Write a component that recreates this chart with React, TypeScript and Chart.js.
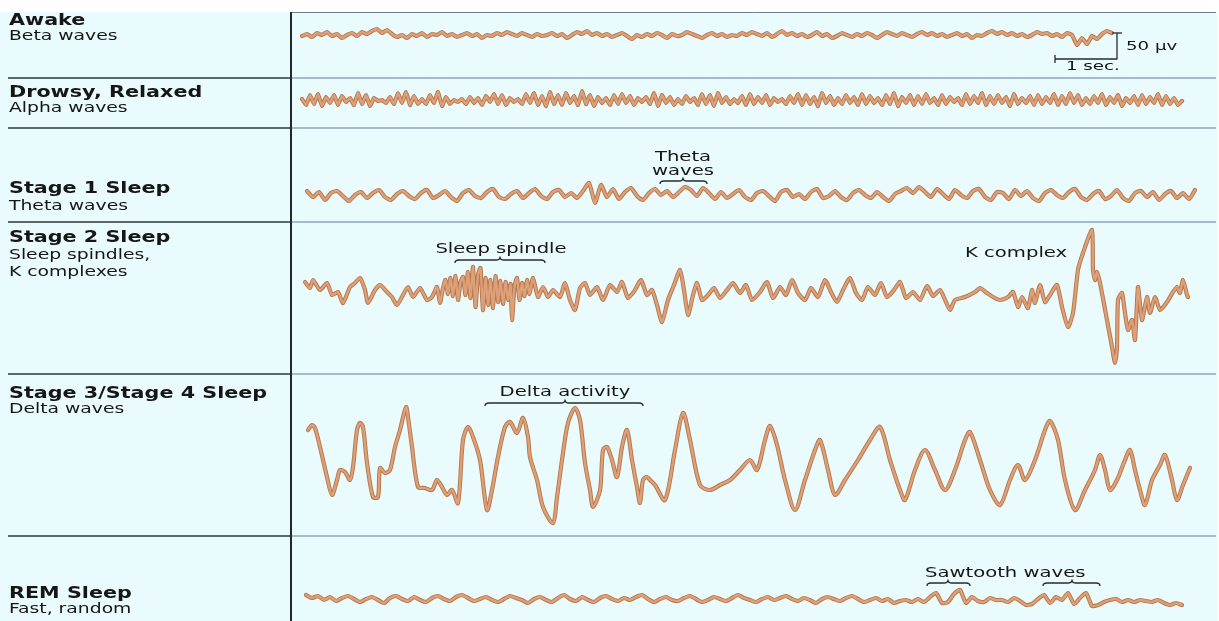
import React, { useEffect, useRef } from "react";
import { Chart, registerables } from "chart.js";

Chart.register(...registerables);

// ---------- labels ----------
const stageNames = ["Awake", "Drowsy, Relaxed", "Stage 1 Sleep", "Stage 2 Sleep", "Stage 3/Stage 4 Sleep", "REM Sleep"];
const waveNames = [["Beta waves"], ["Alpha waves"], ["Theta waves"], ["Sleep spindles,", "K complexes"], ["Delta waves"], ["Fast, random"]];

// ---------- data (time units, amplitude units) ----------
const awakeStart = 0.2;
const awakeStep = 0.5;
const awakeValues = [
  0, 2, -1, 3, 1, 4, 0, 2, -2, 1,
  3, 0, 4, 2, 5, 7, 3, 6, 2, -1,
  1, -2, 2, 0, 3, -1, 2, 1, 4, 0,
  2, -1, 1, 3, 0, 2, -2, 1, 0, 3,
  1, 4, 2, 0, 3, 1, -1, 2, 0, 1,
  3, 0, 2, -2, 1, 4, 2, 5, 1, 3,
  0, 2, -1, 1, 3, 0, -3, 1, -1, 2,
  0, 3, 1, -2, 2, 0, 1, 4, 2, 0,
  -2, 1, 3, 0, 2, -1, 1, 0, 3, 1,
  4, 2, 0, 3, -1, 2, 5, 1, 3, 0,
  2, -1, 1, 4, 0, 2, -2, 0, 3, 1,
  -1, 2, 0, 3, 1, -2, 1, 4, 2, 0,
  3, 1, -1, 2, 4, 1, 3, 0, 2, -1,
  1, 3, 0, 2, -2, 1, 0, 3, 5, 2,
  4, 1, 3, 0, 2, -1, 1, 4, 2, 3,
  0, 2, -1, 3, 1, -9, -2, -8, 0, -3,
  2, 5, 3,
];

const alphaStart = 0.2;
const alphaStep = 0.4;
const alphaValues = [
  2, -4, 6, -3, 7, -5, 4, -2, 6, -4,
  5, -1, 3, -4, 8, -3, 6, -5, 3, 0,
  1, -2, 4, -3, 8, -2, 9, -4, 5, -3,
  2, -3, 6, -2, 9, -5, 4, -3, 1, -1,
  2, -3, 4, -2, 3, -4, 5, -1, 7, -3,
  6, -4, 3, -1, 2, -3, 7, -2, 8, -4,
  5, -5, 9, -3, 6, -4, 8, -2, 5, -4,
  10, -3, 6, -5, 4, -2, 3, -4, 6, -3,
  7, -2, 5, -4, 3, -1, 4, -3, 8, -5,
  6, -2, 4, -4, 2, -3, 5, -1, 3, -4,
  7, -3, 6, -5, 8, -2, 4, -3, 2, -2,
  5, -4, 7, -3, 4, -2, 6, -4, 3, -1,
  2, -3, 5, -2, 7, -4, 6, -3, 4, -5,
  8, -2, 5, -4, 3, -3, 6, -2, 4, -4,
  7, -3, 5, -2, 3, -4, 6, -3, 8, -5,
  4, -2, 6, -4, 5, -3, 7, -2, 3, -4,
  6, -3, 4, -1, 3, -4, 7, -3, 5, -2,
  8, -4, 5, -3, 6, -2, 4, -5, 7, -3,
  3, -2, 5, -4, 6, -3, 4, -2, 7, -4,
  5, -3, 8, -2, 6, -4, 3, -3, 5, -2,
  7, -4, 4, -2, 6, -5, 3, -2, 5, -4,
  6, -3, 4, -2, 7, -4, 5, -3, 3, -4,
  0,
];

const thetaStart = 0.7;
const thetaStep = 0.6;
const thetaValues = [
  4, -2, 3, -5, 2, 4, -1, -6, 0, 3,
  -3, 2, 5, -2, -5, 1, 4, -1, -4, 2,
  5, -3, 0, 4, -2, -6, 2, 5, -1, -3,
  3, 6, -2, -4, 1, 4, -3, 2, 6, -1,
  -4, 3, 5, -2, 2, -3, 4, 12, -8, 10,
  -2, 6, -4, 3, 7, -1, -5, 2, 6, 0,
  4, -2, 3, 8, 5, -1, 7, 2, -4, 3,
  -3, 1, 5, -2, -5, 2, 4, -1, -6, 3,
  5, -2, 1, -4, 3, 6, -3, -1, 4, -2,
  -5, 2, 5, 0, -3, 3, -2, -6, 1, 4,
  7, 2, 8, 3, -2, 6, 1, -4, 5, 0,
  -3, 4, 6, -2, -5, 3, 2, -4, 5, -1,
  4, -3, -6, 2, 5, 0, -3, 3, 6, -2,
  -5, 1, 4, -4, -1, 5, -3, -6, 2, 4,
  -2, 3, -5, 1, 4, -3, 2, -4, 5,
];

const stage2Time = [
  0.5, 1.0, 1.3, 2.0, 2.7, 3.2, 3.8, 4.3, 5.0, 5.5, 6.0,
  6.5, 6.8, 7.5, 8.0, 8.7, 9.2, 9.7, 10.3, 10.8, 11.3,
  12.0, 12.7, 13.2, 13.7, 14.0,
  14.3, 14.55, 14.8, 15.05, 15.3, 15.55, 15.8, 16.05, 16.3, 16.55,
  16.8, 17.05, 17.3, 17.55, 17.8, 18.05, 18.3, 18.55, 18.8, 19.05,
  19.3, 19.55, 19.8, 20.05, 20.3, 20.55, 20.8, 21.05, 21.2, 21.45,
  21.7, 21.95, 22.2, 22.45, 22.7, 22.95, 23.3,
  23.8, 24.3, 24.8, 25.3, 26.0, 26.5, 27.0, 27.5,
  28.0, 28.5, 29.0, 29.7, 30.3, 31.0, 31.7, 32.2, 32.8, 33.5,
  34.1, 34.7, 35.2, 35.7, 36.2, 36.8, 37.4, 38.0, 38.4, 38.8,
  39.3, 39.7, 40.2, 40.8, 41.4, 42.0, 42.7, 43.3, 44.0, 44.6,
  45.2, 46.0, 46.7, 47.3, 48.0, 48.6, 49.2, 49.8, 50.5, 51.1,
  51.8, 52.5, 53.1, 53.7, 54.3, 55.0, 55.6, 56.2, 56.8, 57.5,
  58.1, 58.7, 59.4, 60.0, 60.6, 61.3, 62.0, 62.7, 63.3, 64.0,
  64.6, 65.0, 65.5, 66.5, 67.5, 68.0, 68.7, 69.3, 70.0, 70.8,
  71.3, 71.8, 72.2, 72.8, 73.2, 73.5, 74.0, 74.5, 75.0, 75.7,
  76.2, 76.8, 77.3, 77.8, 78.3, 79.2, 79.3, 79.5, 79.7, 80.0,
  80.7, 81.2, 81.5, 81.7, 81.8, 82.2, 82.5, 82.8, 83.2, 83.5,
  83.8, 84.2, 84.7, 85.0, 85.5, 86.0, 86.7, 87.3, 87.7, 88.0,
  88.3, 88.7, 88.8,
];
const stage2Values = [
  8, 2, 10, 0, 7, -5, -2, -13, 3, 7, 12,
  0, -13, 0, 5, -2, -7, -15, -5, 3, -7,
  2, -10, -7, 3, -13,
  2, 10, -4, 12, -6, 14, -10, 8, 13, -5,
  18, -8, 23, -17, 15, 22, -20, 12, -15, 10,
  -18, 14, -12, 9, -14, 8, -10, 6, -30, 4,
  12, -10, 7, -6, 10, -4, 12,
  -7, 3, -7, 0, -7, 7, -10, -20,
  2, 7, -5, 3, -10, 5, -2, 8, -8, 0,
  10, -5, 0, -15, -32, -10, 5, 20, 0, -25,
  -5, 7, -10, -5, 2, -8, 0, 7, -3, 5,
  -10, -2, 8, -8, 3, -5, 10, -3, -10, 2,
  -7, 10, -2, -12, 0, 12, -3, -10, 3, -5,
  7, -7, 0, 8, -8, -2, -10, 4, -6, 0,
  -12, -20, -10, -7, -2, 2, -3, -7, -10, -7,
  -2, -17, -7, -18, 0, -13, 5, -12, -5, 5,
  -17, -37, -23, 20, 37, 60, 20, 10, 18, 7,
  -30, -57, -73, -57, -10, -3, -23, -40, -30, -50,
  3, -30, -7, -23, -7, -20, -12, -2, 3, -3,
  10, -5, -7,
];

const deltaTime = [
  0.8, 1.2, 1.5, 2.0, 2.7, 3.2, 3.7, 4.0, 4.5, 5.0,
  5.3, 5.7, 6.0, 6.3, 6.7, 7.3, 7.8, 8.0, 8.5, 9.0,
  9.5, 10.0, 10.6, 10.8, 11.2, 11.8, 12.5, 13.2, 13.7, 14.2,
  14.7, 15.2, 15.8, 16.3, 16.8, 17.3, 18.0, 18.7, 19.2, 19.8,
  20.5, 21.0, 21.7, 22.3, 22.8, 23.0, 23.7, 24.3, 25.3, 25.7,
  26.3, 26.8, 27.5, 28.0, 28.5, 29.0, 29.3, 30.0, 30.3, 30.7,
  31.2, 31.7, 32.2, 32.7, 33.2, 33.7, 34.0, 34.3, 34.7, 35.0,
  35.5, 36.5, 37.5, 38.3, 39.0, 40.0, 41.0, 42.0, 43.0, 44.0,
  45.0, 45.7, 46.5, 47.0, 47.7, 48.5, 49.5, 50.5, 51.5, 52.0,
  52.8, 53.5, 54.5, 55.8, 57.0, 58.0, 59.0, 60.0, 60.5, 61.5,
  62.5, 63.5, 64.5, 65.5, 66.5, 67.0, 68.0, 69.0, 70.0, 71.0,
  71.8, 72.5, 73.5, 74.5, 75.0, 75.8, 76.5, 77.5, 78.5, 79.5,
  80.0, 80.5, 81.0, 81.7, 82.5, 83.0, 83.5, 84.0, 84.5, 85.2,
  86.0, 86.5, 87.2, 87.7, 88.3, 89.0,
];
const deltaValues = [
  32, 37, 34, 15, -15, -33, -18, -8, -10, -18,
  -5, 32, 39, 35, -1, -35, -35, -6, -11, -8,
  15, 32, 55, 45, 15, -25, -26, -28, -18, -25,
  -33, -28, -41, 22, 35, 25, 2, -48, -28, 5,
  35, 40, 29, 44, 25, 5, -18, -45, -61, -35,
  9, 39, 54, 42, -1, -28, -45, -28, 12, 15,
  2, -15, 15, 32, 2, -25, -41, -18, -15, -18,
  -23, -38, 12, 49, 22, -23, -28, -23, -18, -8,
  2, -8, 22, 36, 17, -18, -48, -18, 12, 22,
  -8, -33, -18, 2, 22, 35, 2, -28, -38, -8,
  12, -8, -28, -8, 22, 30, 2, -28, -43, -18,
  -3, -18, 2, 32, 41, 22, -18, -48, -28, -8,
  7, -8, -28, -18, 2, 12, -8, -28, -43, -18,
  -3, 7, -18, -38, -23, -6,
];

const remStart = 0.6;
const remStep = 0.6;
const remValues = [
  5, 2, 4, 0, 3, -1, 2, 4, 1, -2,
  1, 3, 0, -3, 2, 4, 1, -1, 3, 0,
  -2, 2, 4, 1, -1, 3, 5, 2, -1, 1,
  3, 0, -2, 1, 4, 2, 0, -3, 1, 3,
  0, -2, 2, 5, 1, -1, 3, 0, -2, 2,
  4, 1, -1, 2, 0, 3, 5, 1, -2, 1,
  3, 0, -1, 2, 4, 1, -2, 0, 3, 1,
  -1, 2, 5, 2, 0, -2, 1, 3, 0, 2,
  4, 1, -1, 2, 0, -3, 1, 3, 1, -1,
  2, 4, 1, -2, 0, 2, -1, 1, -3, -1,
  0, -2, 1, -2, 3, 7, -3, -2, 6, 10,
  -3, 3, -1, -2, 2, 0, 0, -2, 2, -1,
  -5, -4, 1, 5, -3, 3, 0, 7, -4, 2,
  7, -6, -5, -2, 0, 1, -2, 0, -2, 0,
  -1, -2, 0, -3, -5, -3, -5,
];

// ---------- builders ----------
type Pt = { x: number; y: number };
const uniformPoints = (start: number, step: number, vals: number[]): Pt[] =>
  vals.map((v, i) => ({ x: start + i * step, y: v }));
const pairedPoints = (ts: number[], vs: number[]): Pt[] => {
  const n = Math.min(ts.length, vs.length);
  const out: Pt[] = [];
  for (let i = 0; i < n; i++) out.push({ x: ts[i], y: vs[i] });
  return out;
};

const seriesByRow: Pt[][] = [
  uniformPoints(awakeStart, awakeStep, awakeValues),
  uniformPoints(alphaStart, alphaStep, alphaValues),
  uniformPoints(thetaStart, thetaStep, thetaValues),
  pairedPoints(stage2Time, stage2Values),
  pairedPoints(deltaTime, deltaValues),
  uniformPoints(remStart, remStep, remValues),
];

// ---------- layout / style ----------
const W = 1219;
const ROW_EDGES = [12, 77, 127, 221, 373, 535, 621];
const ROW_CENTERS = [36, 101, 195, 290, 462, 600];
const ROW_TENSION = [0.15, 0.1, 0.2, 0.2, 0.3, 0.2];
const LABEL_BASELINES = [[25, 40], [97, 112], [193, 210], [242, 259, 276], [398, 413], [598, 613]];
const BG = "rgb(233,251,252)";
const EDGE = "#b7784e";
const CORE = "#dea078";
const TEXT = "#161616";
const FONT = '"DejaVu Sans", Verdana, sans-serif';

type Ann =
  | { type: "text"; t: number; v: number; text: string; align: "left" | "center"; size?: number }
  | { type: "brace"; t1: number; t2: number; tm: number; v: number }
  | { type: "path"; pts: number[][] };

const ANNOTATIONS: Ann[][] = [
  [
    { type: "path", pts: [[81.2, 3], [82.2, 3]] },
    { type: "path", pts: [[81.7, 3], [81.7, -23], [75.5, -23]] },
    { type: "path", pts: [[75.5, -19], [75.5, -27]] },
    { type: "text", t: 82.6, v: -14, text: "50 µv", align: "left", size: 13 },
    { type: "text", t: 76.6, v: -34, text: "1 sec.", align: "left", size: 13 },
  ],
  [],
  [
    { type: "text", t: 38.3, v: 34, text: "Theta", align: "center" },
    { type: "text", t: 38.3, v: 20, text: "waves", align: "center" },
    { type: "brace", t1: 36, t2: 40.7, tm: 38.3, v: 14 },
  ],
  [
    { type: "text", t: 20.1, v: 37, text: "Sleep spindle", align: "center" },
    { type: "brace", t1: 15.5, t2: 24.5, tm: 20, v: 30 },
    { type: "text", t: 66.5, v: 33, text: "K complex", align: "left" },
  ],
  [
    { type: "text", t: 26.5, v: 66, text: "Delta activity", align: "center" },
    { type: "brace", t1: 18.5, t2: 34.3, tm: 26.5, v: 59 },
  ],
  [
    { type: "text", t: 62.5, v: 23, text: "Sawtooth waves", align: "left" },
    { type: "brace", t1: 62.7, t2: 67, tm: 64.8, v: 17 },
    { type: "brace", t1: 74.3, t2: 80, tm: 77.2, v: 17 },
  ],
];

function stretchText(ctx: CanvasRenderingContext2D, text: string, x: number, y: number, font: string, sx: number, align: "left" | "center") {
  ctx.font = font;
  const w = ctx.measureText(text).width * sx;
  const x0 = align === "center" ? x - w / 2 : x;
  ctx.save();
  ctx.translate(x0, y);
  ctx.scale(sx, 1);
  ctx.textAlign = "left";
  ctx.textBaseline = "alphabetic";
  ctx.fillStyle = TEXT;
  ctx.fillText(text, 0, 0);
  ctx.restore();
}

function framePlugin(index: number) {
  return {
    id: "frame" + index,
    beforeDraw(chart: any) {
      const ctx: CanvasRenderingContext2D = chart.ctx;
      const h = chart.height;
      const top = ROW_EDGES[index];
      ctx.save();
      ctx.fillStyle = BG;
      ctx.fillRect(0, 0, 1217, h);
      if (index === 0) {
        ctx.strokeStyle = "#6f8080";
        ctx.lineWidth = 1;
        ctx.beginPath();
        ctx.moveTo(291, 0.5);
        ctx.lineTo(1216, 0.5);
        ctx.stroke();
      } else {
        ctx.strokeStyle = "#2c3a3a";
        ctx.lineWidth = 1.6;
        ctx.beginPath();
        ctx.moveTo(8, 1);
        ctx.lineTo(291, 1);
        ctx.stroke();
        ctx.strokeStyle = "#a7bccb";
        ctx.lineWidth = 2;
        ctx.beginPath();
        ctx.moveTo(292, 1);
        ctx.lineTo(1216, 1);
        ctx.stroke();
      }
      ctx.strokeStyle = "#1f2b2b";
      ctx.lineWidth = 2;
      ctx.beginPath();
      ctx.moveTo(291, 0);
      ctx.lineTo(291, h);
      ctx.stroke();
      const bl = LABEL_BASELINES[index];
      stretchText(ctx, stageNames[index], 9, bl[0] - top, "bold 15px " + FONT, 1.38, "left");
      waveNames[index].forEach((s, k) => {
        stretchText(ctx, s, 9, bl[k + 1] - top, "14px " + FONT, 1.34, "left");
      });
      ctx.restore();
    },
    afterDatasetsDraw(chart: any) {
      const ctx: CanvasRenderingContext2D = chart.ctx;
      const xs = chart.scales.x;
      const ys = chart.scales.y;
      const px = (t: number) => xs.getPixelForValue(t);
      const py = (v: number) => ys.getPixelForValue(v);
      ctx.save();
      ctx.strokeStyle = "#2a2a2a";
      ctx.lineWidth = 1.3;
      ctx.lineJoin = "round";
      for (const a of ANNOTATIONS[index]) {
        if (a.type === "text") {
          stretchText(ctx, a.text, px(a.t), py(a.v), (a.size || 14) + "px " + FONT, 1.4, a.align);
        } else if (a.type === "path") {
          ctx.beginPath();
          a.pts.forEach((p, k) => (k === 0 ? ctx.moveTo(px(p[0]), py(p[1])) : ctx.lineTo(px(p[0]), py(p[1]))));
          ctx.stroke();
        } else {
          const y = py(a.v);
          const x1 = px(a.t1), x2 = px(a.t2), xm = px(a.tm);
          ctx.beginPath();
          ctx.moveTo(x1, y + 3);
          ctx.quadraticCurveTo(x1, y, x1 + 4, y);
          ctx.lineTo(xm - 4, y);
          ctx.quadraticCurveTo(xm, y, xm, y - 3);
          ctx.quadraticCurveTo(xm, y, xm + 4, y);
          ctx.lineTo(x2 - 4, y);
          ctx.quadraticCurveTo(x2, y, x2, y + 3);
          ctx.stroke();
        }
      }
      ctx.restore();
    },
  };
}

function RowChart({ index }: { index: number }) {
  const ref = useRef<HTMLCanvasElement | null>(null);
  const top = ROW_EDGES[index];
  const bottom = ROW_EDGES[index + 1];
  const center = ROW_CENTERS[index];
  const h = bottom - top;
  useEffect(() => {
    if (!ref.current) return;
    const pts = seriesByRow[index];
    const tension = ROW_TENSION[index];
    const chart = new Chart(ref.current, {
      type: "line",
      data: {
        datasets: [
          { data: pts.map((p) => ({ ...p })), borderColor: CORE, borderWidth: 2.3, order: 1, tension },
          { data: pts.map((p) => ({ ...p })), borderColor: EDGE, borderWidth: 4.2, order: 2, tension },
        ],
      },
      options: {
        animation: false,
        responsive: false,
        devicePixelRatio: 1,
        events: [],
        layout: { padding: { left: 300, right: 19, top: 0, bottom: 0 } },
        elements: {
          point: { radius: 0 },
          line: { borderJoinStyle: "round", borderCapStyle: "round", fill: false },
        },
        plugins: { legend: { display: false }, tooltip: { enabled: false } },
        scales: {
          x: { type: "linear", min: 0, max: 90, display: false },
          y: { type: "linear", min: -(bottom - center), max: center - top, display: false },
        },
      } as any,
      plugins: [framePlugin(index)],
    });
    return () => chart.destroy();
  }, [index]);
  return (
    <canvas
      ref={ref}
      width={W}
      height={h}
      style={{ position: "absolute", left: 0, top, width: W, height: h, display: "block" }}
    />
  );
}

export default function App() {
  return (
    <div style={{ position: "fixed", left: 0, top: 0, width: W, height: 621, background: "#ffffff", overflow: "hidden" }}>
      {stageNames.map((_, i) => (
        <RowChart key={i} index={i} />
      ))}
    </div>
  );
}
